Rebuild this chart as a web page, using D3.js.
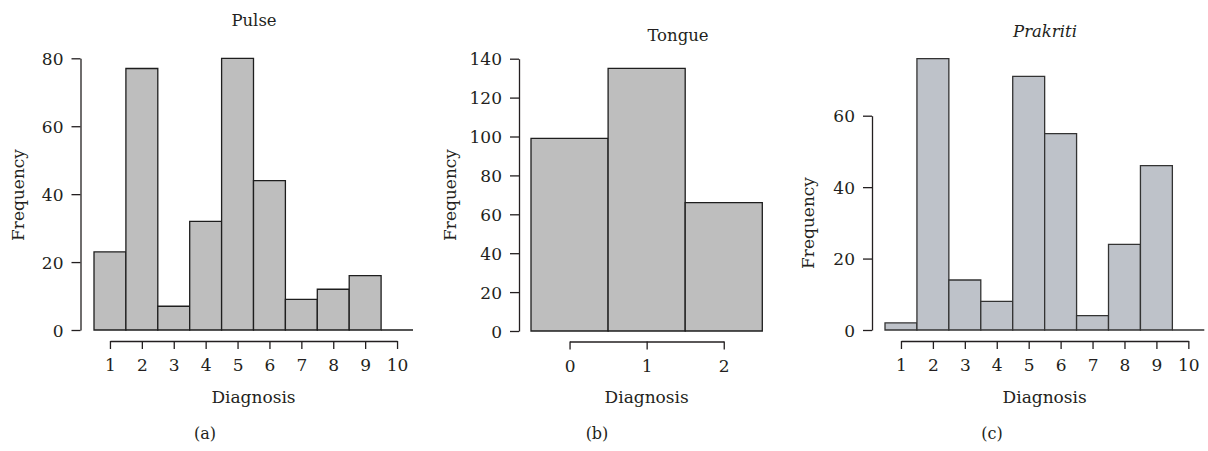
<!DOCTYPE html>
<html>
<head>
<meta charset="utf-8">
<script src="https://cdn.jsdelivr.net/npm/d3@7.9.0/dist/d3.min.js"></script>
<style>
  body { margin: 0; background: #fff; }
  svg text { font-family: "DejaVu Serif", serif; fill: #231f20; }
</style>
</head>
<body>
<svg id="chart" width="1208" height="451"></svg>
<script>
// diagnosis classes and counts
const pulseBins      = [1, 2, 3, 4, 5, 6, 7, 8, 9, 10];
const pulseCounts    = [23, 77, 7, 32, 80, 44, 9, 12, 16, 0];
const tongueBins     = [0, 1, 2];
const tongueCounts   = [99, 135, 66];
const prakritiBins   = [1, 2, 3, 4, 5, 6, 7, 8, 9, 10];
const prakritiCounts = [2, 76, 14, 8, 71, 55, 4, 24, 46, 0];

const pulseYTicks    = [0, 20, 40, 60, 80];
const tongueYTicks   = [0, 20, 40, 60, 80, 100, 120, 140];
const prakritiYTicks = [0, 20, 40, 60];

const svg = d3.select('#chart');
const INK = '#231f20';

// one histogram panel
function drawPanel(opt) {
  const g = svg.append('g');
  const x = d3.scaleLinear()
    .domain([opt.bins[0] - 0.5, opt.bins[opt.bins.length - 1] + 0.5])
    .range(opt.xRange);
  const y = d3.scaleLinear().domain([0, opt.yMax]).range(opt.yRange);

  // bars as paths so an empty bin still leaves its base line
  g.selectAll('path.bar')
    .data(opt.bins.map((b, i) => ({ bin: b, count: opt.counts[i] })))
    .enter()
    .append('path')
      .attr('class', 'bar')
      .attr('d', d => {
        const x0 = x(d.bin - 0.5), x1 = x(d.bin + 0.5);
        return `M${x0},${y(0)}V${y(d.count)}H${x1}V${y(0)}Z`;
      })
      .attr('fill', opt.fill)
      .attr('stroke', opt.stroke)
      .attr('stroke-width', 1.3);

  // y axis, only as long as its ticks
  const yTop = opt.yTicks[opt.yTicks.length - 1];
  const yAx = d3.scaleLinear().domain([0, yTop]).range([y(0), y(yTop)]);
  const ya = g.append('g')
    .attr('transform', `translate(${opt.yAxisX},0)`)
    .call(d3.axisLeft(yAx).tickValues(opt.yTicks).tickFormat(d3.format('d'))
      .tickSize(9).tickSizeOuter(0).tickPadding(8));

  // x axis, offset below the bars
  const first = opt.bins[0], last = opt.xTickLast;
  const xAx = d3.scaleLinear().domain([first, last]).range([x(first), x(last)]);
  const xa = g.append('g')
    .attr('transform', `translate(0,${opt.xAxisY})`)
    .call(d3.axisBottom(xAx).tickValues(d3.range(first, last + 1)).tickFormat(d3.format('d'))
      .tickSize(8).tickSizeOuter(0).tickPadding(10));

  [ya, xa].forEach(a => {
    a.select('.domain').attr('stroke', INK).attr('stroke-width', 1.3);
    a.selectAll('.tick line').attr('stroke', INK).attr('stroke-width', 1.3);
    a.selectAll('.tick text').style('font-size', '17px').attr('fill', INK);
  });
  ya.selectAll('.tick text').attr('dy', '0.36em');

  g.append('text')
    .attr('x', opt.title[1]).attr('y', opt.title[2])
    .attr('text-anchor', 'middle')
    .style('font-size', '16.5px')
    .style('font-style', opt.italic ? 'italic' : 'normal')
    .text(opt.title[0]);

  g.append('text')
    .attr('transform', `translate(${opt.yLab[0]},${opt.yLab[1]}) rotate(-90)`)
    .attr('text-anchor', 'middle')
    .style('font-size', '17px')
    .text('Frequency');

  g.append('text')
    .attr('x', x((first + last) / 2)).attr('y', 403)
    .attr('text-anchor', 'middle')
    .style('font-size', '17px')
    .text('Diagnosis');

  g.append('text')
    .attr('x', opt.tag[1]).attr('y', 439)
    .attr('text-anchor', 'middle')
    .style('font-size', '16px')
    .text(opt.tag[0]);
}

drawPanel({
  bins: pulseBins, counts: pulseCounts, yMax: 80, yTicks: pulseYTicks,
  xRange: [94, 413], yRange: [330, 58.3], yAxisX: 80.5, xAxisY: 341, xTickLast: 10,
  fill: '#bebebe', stroke: '#1e1e1e',
  title: ['Pulse', 254, 26], yLab: [24, 195], tag: ['(a)', 205]
});

drawPanel({
  bins: tongueBins, counts: tongueCounts, yMax: 140, yTicks: tongueYTicks,
  xRange: [531, 762.3], yRange: [331, 58.7], yAxisX: 519, xAxisY: 341.5, xTickLast: 2,
  fill: '#bebebe', stroke: '#1e1e1e',
  title: ['Tongue', 678, 41], yLab: [456, 195], tag: ['(b)', 597]
});

drawPanel({
  bins: prakritiBins, counts: prakritiCounts, yMax: 60 * 330 / 214.3, yTicks: prakritiYTicks,
  xRange: [885, 1204.3], yRange: [330, 0], yAxisX: 872, xAxisY: 341, xTickLast: 10,
  fill: '#bec2c9', stroke: '#333333', italic: true,
  title: ['Prakriti', 1045, 37], yLab: [814, 223], tag: ['(c)', 992]
});
</script>
</body>
</html>
